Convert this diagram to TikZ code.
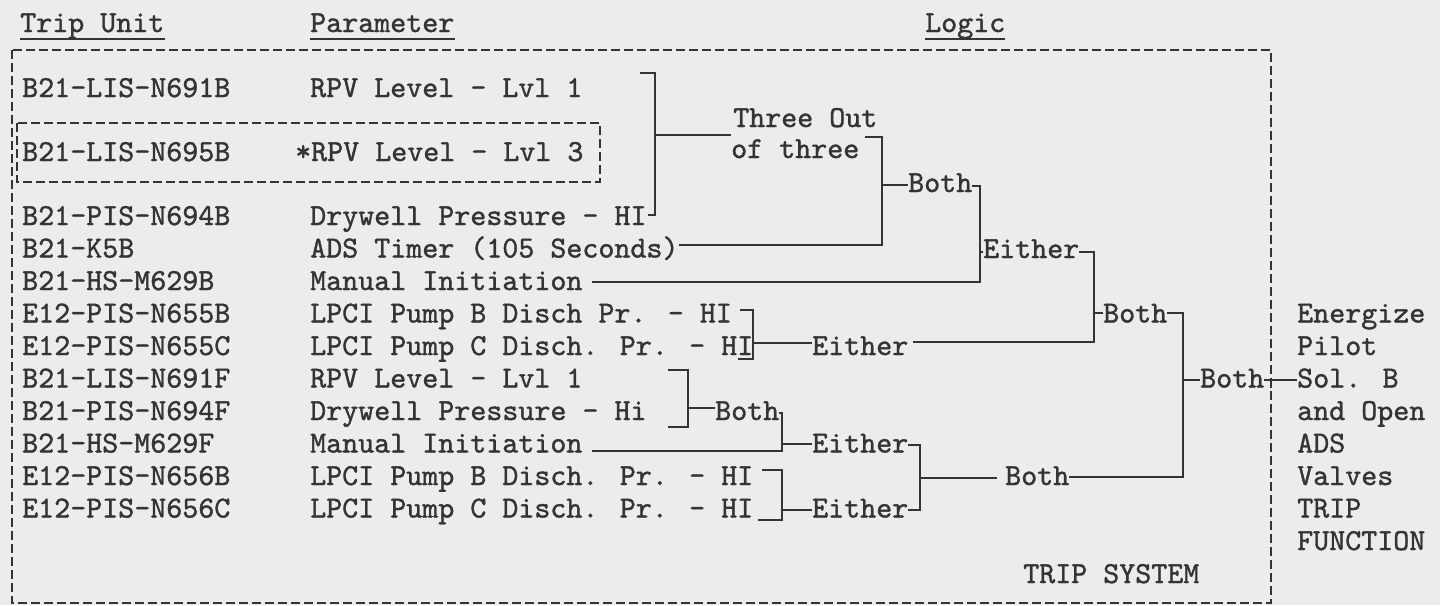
\documentclass[tikz,border=0pt]{standalone}
\usepackage{fontspec}
\newfontfamily\twfont{lmmono10-regular.otf}[FakeBold=1.2]
\definecolor{ink}{RGB}{52,52,52}
\definecolor{paper}{RGB}{236,236,234}
\tikzset{
  txt/.style={anchor=base west, inner sep=0pt, text=ink,
    font={\fontsize{30.5}{36}\selectfont\twfont}},
  head/.style={txt, text depth=7pt},
  wire/.style={draw=ink, line width=2.4pt, line cap=butt, line join=miter},
  dbox/.style={draw=ink, line width=2.2pt, dash pattern=on 9pt off 4pt},
  uline/.style={draw=ink, line width=2.2pt}
}
\begin{document}
\begin{tikzpicture}[x=1pt,y=-1pt]
\fill[paper] (0,0) rectangle (1440,605);
\useasboundingbox (0,0) rectangle (1440,605);

% headers
\node[head] (hTU) at (20,32) {Trip Unit};
\node[head] (hPA) at (310,32) {Parameter};
\node[head] (hLO) at (925,32) {Logic};
\foreach \h in {hTU,hPA,hLO}{\draw[uline] (\h.south west) -- (\h.south east);}

% boxes
\draw[dbox] (12,50) rectangle (1271,603);
\draw[dbox] (17,123) rectangle (600,182);

% trip units
\node[txt] (u1)  at (22,97)    {B21-LIS-N691B};
\node[txt] (u2)  at (22,161)   {B21-LIS-N695B};
\node[txt] (u3)  at (22,225)   {B21-PIS-N694B};
\node[txt] (u4)  at (22,257.5) {B21-K5B};
\node[txt] (u5)  at (22,290)   {B21-HS-M629B};
\node[txt] (u6)  at (22,322.5) {E12-PIS-N655B};
\node[txt] (u7)  at (22,355)   {E12-PIS-N655C};
\node[txt] (u8)  at (22,387.5) {B21-LIS-N691F};
\node[txt] (u9)  at (22,420)   {B21-PIS-N694F};
\node[txt] (u10) at (22,452.5) {B21-HS-M629F};
\node[txt] (u11) at (22,485)   {E12-PIS-N656B};
\node[txt] (u12) at (22,517.5) {E12-PIS-N656C};

% parameters
\node[txt] (p1)  at (310,97)    {RPV Level - Lvl 1};
\node[txt] (p2)  at (295,161)   {*RPV Level - Lvl 3};
\node[txt] (p3)  at (310,225)   {Drywell Pressure - HI};
\node[txt] (p4)  at (310,257.5) {ADS Timer (105 Seconds)};
\node[txt] (p5)  at (310,290)   {Manual Initiation};
\node[txt] (p6)  at (310,322.5) {LPCI Pump B Disch Pr. - HI};
\node[txt] (p7)  at (310,355)   {LPCI Pump C Disch. Pr. - HI};
\node[txt] (p8)  at (310,387.5) {RPV Level - Lvl 1};
\node[txt] (p9)  at (310,420)   {Drywell Pressure - Hi};
\node[txt] (p10) at (310,452.5) {Manual Initiation};
\node[txt] (p11) at (310,485)   {LPCI Pump B Disch. Pr. - HI};
\node[txt] (p12) at (310,517.5) {LPCI Pump C Disch. Pr. - HI};

% logic labels
\node[txt] (g3a) at (733,127) {Three Out};
\node[txt] (g3b) at (731,158) {of three};
\node[txt] (b1) at (908,192)   {Both};
\node[txt] (e1) at (983,258)   {Either};
\node[txt] (b2) at (1103,322.5){Both};
\node[txt] (b3) at (1200,387.5){Both};
\node[txt] (e2) at (812,355)   {Either};
\node[txt] (b4) at (715,420)   {Both};
\node[txt] (e3) at (812,452.5) {Either};
\node[txt] (e4) at (812,517.5) {Either};
\node[txt] (b5) at (1005,485)  {Both};

% result text
\node[txt] (r1) at (1297,322.5) {Energize};
\node[txt] (r2) at (1297,355)   {Pilot};
\node[txt] (r3) at (1297,387.5) {Sol. B};
\node[txt] (r4) at (1297,420)   {and Open};
\node[txt] (r5) at (1297,452.5) {ADS};
\node[txt] (r6) at (1297,485)   {Valves};
\node[txt] (r7) at (1297,517.5) {TRIP};
\node[txt] (r8) at (1297,550)   {FUNCTION};
\node[txt] (ts) at (1023,583)   {TRIP SYSTEM};

% connectors
% three out of three
\draw[wire] (640,73) -- (655,73) -- (655,215) -- (648,215);
\draw[wire] (655,135) -- (g3b.west |- 0,135);
% both (3oo3 + timer)
\draw[wire] (865,137) -- (882,137) -- (882,245) -- (p4.east |- 0,245);
\draw[wire] (882,185) -- (b1.west |- 0,185);
% either (both + manual)
\draw[wire] (b1.east |- 0,186) -- (980,186) -- (980,282) -- (592,282);
\draw[wire] (980,252) -- (e1.west |- 0,252);
% both (either + LPCI either)
\draw[wire] (e1.east |- 0,252) -- (1094,252) -- (1094,342) -- (913,342);
\draw[wire] (1094,313) -- (b2.west |- 0,313);
% final both
\draw[wire] (b2.east |- 0,313) -- (1183,313) -- (1183,477) -- (b5.east |- 0,477);
\draw[wire] (1183,380) -- (b3.west |- 0,380);
\draw[wire] (b3.east |- 0,380) -- (r3.west |- 0,380);
\draw[wire] (1271,380) -- (1271,388);
% LPCI B/C pump
\draw[wire] (740,310) -- (753,310) -- (753,359) -- (738,359);
\draw[wire] (753,343) -- (e2.west |- 0,343);
% rows 8-9
\draw[wire] (668,370) -- (688,370) -- (688,427) -- (668,427);
\draw[wire] (688,408) -- (b4.west |- 0,408);
% both + manual -> either
\draw[wire] (b4.east |- 0,413) -- (782,413) -- (782,451) -- (592,451);
\draw[wire] (782,444) -- (e3.west |- 0,444);
% either + either -> both
\draw[wire] (e3.east |- 0,445) -- (920,445) -- (920,510) -- (e4.east |- 0,510);
\draw[wire] (920,478) -- (997,478);
% rows 11-12
\draw[wire] (762,470) -- (782,470) -- (782,520) -- (758,520);
\draw[wire] (782,510) -- (e4.west |- 0,510);
\end{tikzpicture}
\end{document}
